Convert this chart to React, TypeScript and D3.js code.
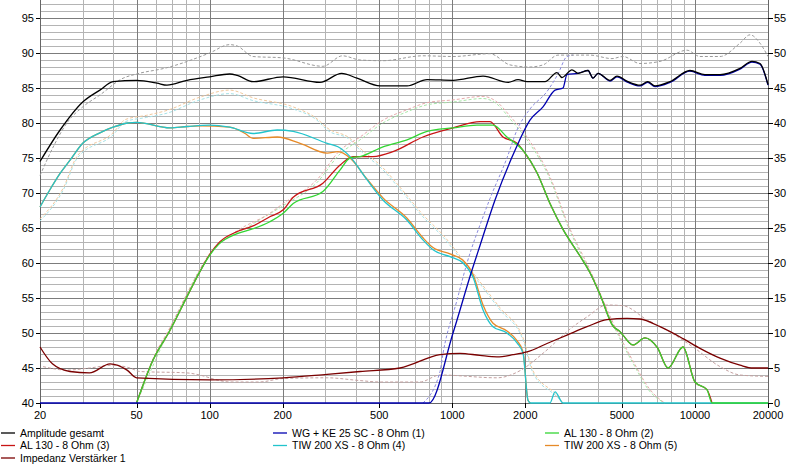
import * as d3 from "d3";

type Pt = [number, number];

// frequency [Hz], level [dB]
const amplitudeGesamt: Pt[] = [
  [20, 74.5], [24.2, 79], [30, 83], [35.3, 84.7], [40, 85.9], [50, 86.1], [60.7, 85.7],
  [66.7, 85.4], [80.7, 86.1], [100, 86.6], [121, 87], [130, 86.8], [151, 85.9], [201, 86.6],
  [285, 85.8], [350, 87.1], [405, 86.4], [504, 85.3], [651, 85.3], [787, 86.2], [1007, 86.1],
  [1339, 86.7], [1700, 85.8], [1867, 86.2], [2032, 85.9], [2410, 85.9], [2700, 87.2],
  [2831, 86.5], [3114, 87.6], [3298, 87.1], [3625, 87.5], [3800, 86.4], [3986, 87.1],
  [4466, 86.1], [4772, 86.7], [5300, 85.9], [5936, 85.4], [6386, 85.9], [6845, 85.3],
  [7891, 85.9], [9538, 87.5], [10998, 86.9], [12684, 86.9], [15333, 87.8], [17180, 88.8],
  [18535, 88.5], [20000, 85.5],
];
const amplitudeGesamtRef: Pt[] = [
  [20, 72.5], [23, 77], [25.8, 80], [30, 82.3], [35.3, 84], [44, 86.4], [50, 87],
  [66.7, 87.9], [100, 90], [121, 91.2], [130, 91], [151, 89.5], [201, 89.3], [293, 88.1],
  [353, 89.6], [417, 89], [518, 88.9], [757, 89.6], [1007, 89.5], [1430, 89.9], [1729, 88.3],
  [2090, 88], [2365, 88.3], [2726, 89.7], [3694, 89.7], [4550, 89.2], [5052, 89.5],
  [5936, 88.5], [7177, 88.8], [9270, 90.4], [10488, 89.5], [12684, 89.5], [15333, 91.4],
  [16862, 92.6], [18535, 91.4], [20000, 89.5],
];
const wgKe25: Pt[] = [
  [20, 40], [802, 40], [1007, 50], [1206, 59], [1301, 62.5], [1500, 69], [1814, 76.1],
  [2090, 80.4], [2365, 82.3], [2651, 84.7], [2859, 85], [2969, 86.9], [3298, 87.1],
  [3625, 87.5], [3800, 86.4], [3986, 87.1], [4466, 86.0], [4772, 86.6], [5300, 85.8],
  [5936, 85.3], [6386, 85.8], [6845, 85.2], [7891, 85.8], [9538, 87.4], [10998, 86.8],
  [12684, 86.8], [15333, 87.7], [17180, 88.7], [18535, 88.4], [20000, 85.4],
];
const wgKe25Ref: Pt[] = [
  [757, 40], [890, 44.5], [916, 47.1], [1046, 54.7], [1150, 60], [1339, 66.6], [1430, 69.2],
  [1680, 75], [1848, 79], [2090, 82], [2457, 84.5], [2726, 87], [2969, 89.5], [3143, 89.7],
];
const al130_2: Pt[] = [
  [50, 40], [58.4, 46.1], [68.7, 50.4], [80.7, 55.2], [91.3, 58.8], [100, 61.1], [110, 62.8],
  [130, 64.2], [151, 64.9], [177, 65.9], [201, 67.1], [221, 68.5], [293, 70.2], [345, 73.3],
  [379, 75], [417, 75.2], [518, 76.6], [651, 77.6], [787, 78.8], [1007, 79.3], [1264, 79.7],
  [1472, 79.7], [1680, 78], [1957, 76.1], [2234, 72.9], [2527, 68.5], [2859, 64.8],
  [3360, 61], [3694, 58.6], [4062, 55.5], [4594, 51], [4910, 50.2], [5052, 49.7],
  [5554, 48.3], [6226, 49.3], [7000, 47.9], [7743, 45], [8926, 48], [10000, 43],
  [11207, 41.9], [11756, 40], [20000, 40],
];
const al130_3: Pt[] = [
  [50, 40], [58.4, 46.1], [68.7, 50.4], [80.7, 55.2], [91.3, 58.8], [100, 61.2], [110, 63],
  [130, 64.5], [151, 65.3], [177, 66.6], [201, 67.6], [221, 69.4], [293, 71.4], [345, 74],
  [390, 75.2], [471, 75.2], [570, 75.9], [757, 78], [1007, 79.3], [1301, 80.2], [1430, 80.2],
  [1618, 78], [1848, 77.1], [1957, 76.1], [2234, 72.9], [2527, 68.5], [2859, 64.8],
  [3360, 61], [3694, 58.6], [4062, 55.5], [4594, 51], [4910, 50.2], [5052, 49.7],
  [5554, 48.3], [6226, 49.3], [7000, 47.9], [7743, 45], [8926, 48], [10000, 43],
  [11207, 41.9], [11756, 40],
];
const al130Ref: Pt[] = [
  [50, 40], [58.4, 46.3], [68.7, 50.8], [80.7, 55.6], [100, 61.3], [130, 64.6], [177, 67.1],
  [201, 68.5], [277, 71.9], [345, 76.1], [417, 78], [518, 80.4], [651, 81.9], [787, 82.9],
  [1007, 83.3], [1339, 83.8], [1528, 83], [1729, 81], [2032, 78], [2527, 72.3], [3000, 65.5],
  [3694, 59], [4594, 51.5], [5554, 46], [6500, 42], [7500, 40],
];
const al130RefB: Pt[] = [
  [50, 40], [68.7, 50.6], [100, 61.2], [151, 65.6], [201, 68.2], [277, 71.5], [345, 75.6],
  [417, 77.6], [518, 80], [651, 81.6], [787, 82.6], [1007, 83], [1339, 83.5], [1528, 82.7],
  [1729, 80.6], [2032, 77.6], [2527, 72], [3000, 65.2], [3694, 58.7], [4594, 51.2],
  [5554, 45.7], [6500, 41.7], [7500, 40],
];
const tiw200_4: Pt[] = [
  [20, 68], [22, 70.5], [24.2, 72.8], [26.6, 74.7], [30, 77.1], [35.3, 78.6], [40, 79.4],
  [46, 80], [50, 80.1], [68.7, 79.3], [80.7, 79.5], [100, 79.7], [121, 79.4], [151, 78.5],
  [190, 79], [221, 78.8], [305, 77.1], [338, 76.6], [379, 75.2], [445, 71.9], [518, 69],
  [651, 66.1], [757, 63.3], [833, 61.9], [979, 60.9], [1107, 60], [1217, 58], [1339, 53.3],
  [1472, 50.9], [1680, 50], [1848, 48.6], [1957, 47.1], [2051, 40.4], [2100, 40],
  [2527, 40], [2651, 41.6], [2859, 40], [20000, 40],
];
const tiw200_5: Pt[] = [
  [20, 68], [22, 70.5], [24.2, 72.8], [26.6, 74.7], [30, 77.1], [35.3, 78.6], [40, 79.4],
  [46, 80], [50, 80.1], [68.7, 79.3], [80.7, 79.5], [91.3, 79.6], [121, 79.4], [140, 78.5],
  [151, 77.8], [190, 78], [236, 77.1], [305, 75.7], [338, 75.9], [379, 75], [445, 72],
  [518, 69.3], [651, 66.4], [757, 63.6], [833, 62.2], [979, 61.3], [1107, 60.4], [1217, 58.4],
  [1339, 54], [1472, 51.4], [1680, 50.3], [1848, 48.9], [1957, 47.3], [2051, 40.4],
  [2100, 40],
];
const tiw200Ref: Pt[] = [
  [20, 66], [25, 70.5], [28.5, 75], [40, 78.3], [45, 80.2], [55, 80.8], [66.7, 81.4],
  [91.3, 83.3], [121, 84.2], [151, 83.2], [221, 82], [277, 80.4], [305, 79], [379, 77.6],
  [417, 76.1], [518, 73.3], [627, 70], [757, 66.6], [916, 63.7], [1150, 59.4], [1572, 53.3],
  [1957, 49], [2151, 44.3], [2700, 40.9], [2859, 40],
];
const tiw200RefB: Pt[] = [
  [20, 66.3], [25, 70.8], [28.5, 75.3], [40, 78.6], [45, 80.5], [55, 81.1], [66.7, 81.8],
  [91.3, 83.7], [121, 84.7], [151, 83.6], [221, 82.3], [277, 80.6], [305, 79.3], [379, 77.8],
  [417, 76.4], [518, 73.6], [627, 70.3], [757, 66.9], [916, 64], [1150, 59.7], [1572, 53.6],
  [1957, 49.3], [2151, 44.6], [2700, 41.1], [2859, 40],
];
// impedance [Ohm], right axis
const impedanz: Pt[] = [
  [20, 8], [22.5, 5.6], [26.6, 4.5], [32, 4.3], [38.9, 5.6], [45.7, 4.7], [50, 3.6],
  [100, 3.3], [201, 3.6], [305, 4.1], [417, 4.5], [609, 5], [890, 6.9], [1076, 7.1],
  [1300, 6.8], [1528, 6.6], [1779, 6.9], [2032, 7.3], [2457, 8.5], [2969, 9.7], [3591, 10.9],
  [4340, 11.9], [5248, 12.1], [5936, 12], [7177, 10.9], [8926, 9.2], [10488, 7.8],
  [12684, 6.4], [15333, 5.4], [17350, 5], [20000, 5],
];
const impedanzRef: Pt[] = [
  [20.6, 5.2], [25.8, 4.7], [32, 5], [40, 5.4], [47, 5], [51.6, 4.5], [80.7, 4.3],
  [91, 4], [110, 3.2], [121, 3], [160, 3], [201, 3.5], [305, 3.6], [417, 3.2], [504, 3],
  [736, 3], [890, 4], [1528, 3.6], [1920, 4.7], [2365, 7.1], [3143, 10.9], [3591, 12.3],
  [4340, 14], [5052, 13.9], [6330, 11.9], [7670, 10.4], [9818, 8], [12684, 5.2],
  [15333, 4], [20000, 3.8],
];

const freqTicks = [20, 50, 100, 200, 500, 1000, 2000, 5000, 10000, 20000];
const dbTicks = [40, 45, 50, 55, 60, 65, 70, 75, 80, 85, 90, 95];
const ohmTicks = [0, 5, 10, 15, 20, 25, 30, 35, 40, 45, 50, 55];

const legendItems = [
  { label: "Amplitude gesamt", color: "#000000", col: 0, row: 0 },
  { label: "WG + KE 25 SC - 8 Ohm (1)", color: "#0000b0", col: 1, row: 0 },
  { label: "AL 130 - 8 Ohm (2)", color: "#33d633", col: 2, row: 0 },
  { label: "AL 130 - 8 Ohm (3)", color: "#c81414", col: 0, row: 1 },
  { label: "TIW 200 XS - 8 Ohm (4)", color: "#22c4cc", col: 1, row: 1 },
  { label: "TIW 200 XS - 8 Ohm (5)", color: "#e68a28", col: 2, row: 1 },
  { label: "Impedanz Verstärker 1", color: "#7a0000", col: 0, row: 2 },
];

const W = 796;
const H = 464;
const left = 40;
const right = 768;
const bottom = 403;
const font = "'Liberation Sans', Arial, sans-serif";

export default function App() {
  const x = d3.scaleLog().domain([20, 20000]).range([left, right]);
  const y = d3.scaleLinear().domain([40, 95]).range([bottom, 18]);
  const yR = d3.scaleLinear().domain([0, 55]).range([bottom, 18]);

  const dbLine = d3
    .line<Pt>()
    .x((d) => x(d[0]))
    .y((d) => y(d[1]))
    .curve(d3.curveMonotoneX);
  const ohmLine = d3
    .line<Pt>()
    .x((d) => x(d[0]))
    .y((d) => yR(d[1]))
    .curve(d3.curveMonotoneX);

  // grid
  const vMinor: number[] = [];
  for (const dec of [10, 100, 1000]) {
    for (let k = 1; k <= 9; k++) {
      const f = dec * k * 1;
      if (f >= 20 && f <= 20000) vMinor.push(f);
    }
  }
  vMinor.push(10000, 20000);
  const hLines = d3.range(41, 98);

  const dashed = [
    { data: impedanzRef, color: "#c4a0a0", ohm: true },
    { data: tiw200Ref, color: "#a6e2e6", ohm: false },
    { data: tiw200RefB, color: "#f0c89c", ohm: false },
    { data: al130RefB, color: "#a8e6a8", ohm: false },
    { data: al130Ref, color: "#e6aaaa", ohm: false },
    { data: wgKe25Ref, color: "#8c8ce0", ohm: false },
    { data: amplitudeGesamtRef, color: "#9a9a9a", ohm: false },
  ];
  const solid = [
    { data: al130_3, color: "#c81414", ohm: false },
    { data: tiw200_5, color: "#e68a28", ohm: false },
    { data: tiw200_4, color: "#22c4cc", ohm: false },
    { data: al130_2, color: "#33d633", ohm: false },
    { data: wgKe25, color: "#0000b0", ohm: false },
    { data: amplitudeGesamt, color: "#000000", ohm: false },
    { data: impedanz, color: "#7a0000", ohm: true },
  ];

  return (
    <svg
      width={W}
      height={H}
      style={{ position: "absolute", left: 0, top: 0, background: "#fff" }}
      fontFamily={font}
      fontSize={11}
    >
      <rect x={0} y={0} width={W} height={H} fill="#fff" />
      <g shapeRendering="crispEdges">
        {hLines.map((v) => (
          <line
            key={"h" + v}
            x1={left}
            x2={right}
            y1={Math.round(y(v)) + 0.5}
            y2={Math.round(y(v)) + 0.5}
            stroke={v % 5 === 0 ? "#7c7c7c" : "#b4b4b4"}
          />
        ))}
        {vMinor.map((f) => (
          <line
            key={"v" + f}
            x1={Math.round(x(f)) + 0.5}
            x2={Math.round(x(f)) + 0.5}
            y1={0}
            y2={bottom}
            stroke={freqTicks.includes(f) ? "#7c7c7c" : "#b4b4b4"}
          />
        ))}
        <line x1={left + 0.5} x2={left + 0.5} y1={0} y2={bottom} stroke="#666" />
        <line x1={right + 0.5} x2={right + 0.5} y1={0} y2={bottom} stroke="#666" />
        <line x1={left} x2={right + 1} y1={bottom + 0.5} y2={bottom + 0.5} stroke="#666" />
        {dbTicks.map((v) => (
          <line key={"tl" + v} x1={left - 4} x2={left} y1={Math.round(y(v)) + 0.5} y2={Math.round(y(v)) + 0.5} stroke="#000" />
        ))}
        {ohmTicks.map((v) => (
          <line key={"tr" + v} x1={right} x2={right + 5} y1={Math.round(yR(v)) + 0.5} y2={Math.round(yR(v)) + 0.5} stroke="#000" />
        ))}
        {freqTicks.map((f) => (
          <line key={"tb" + f} x1={Math.round(x(f)) + 0.5} x2={Math.round(x(f)) + 0.5} y1={bottom} y2={bottom + 5} stroke="#000" />
        ))}
      </g>

      <g fill="none" strokeWidth={1}>
        {dashed.map((s, i) => (
          <path
            key={"d" + i}
            d={(s.ohm ? ohmLine : dbLine)(s.data) ?? ""}
            stroke={s.color}
            strokeDasharray="3 2"
          />
        ))}
        {solid.map((s, i) => (
          <path
            key={"s" + i}
            d={(s.ohm ? ohmLine : dbLine)(s.data) ?? ""}
            stroke={s.color}
            strokeWidth={1.3}
          />
        ))}
      </g>

      <g fill="#000">
        {dbTicks.map((v) => (
          <text key={"l" + v} x={left - 6} y={y(v)} dy="0.35em" textAnchor="end">
            {v}
          </text>
        ))}
        {ohmTicks.map((v) => (
          <text key={"r" + v} x={right + 6} y={yR(v)} dy="0.35em">
            {v}
          </text>
        ))}
        {freqTicks.map((f) => (
          <text key={"b" + f} x={x(f)} y={bottom + 16} textAnchor="middle">
            {f}
          </text>
        ))}
      </g>

      <g fontSize={10.5}>
        {legendItems.map((it) => {
          const lx = it.col * 272;
          const ly = 433 + it.row * 12.5;
          return (
            <g key={it.label}>
              <line x1={lx + 1} x2={lx + 15} y1={ly} y2={ly} stroke={it.color} strokeWidth={1.3} />
              <text x={lx + 20} y={ly} dy="0.35em" fill="#000">
                {it.label}
              </text>
            </g>
          );
        })}
      </g>
    </svg>
  );
}
